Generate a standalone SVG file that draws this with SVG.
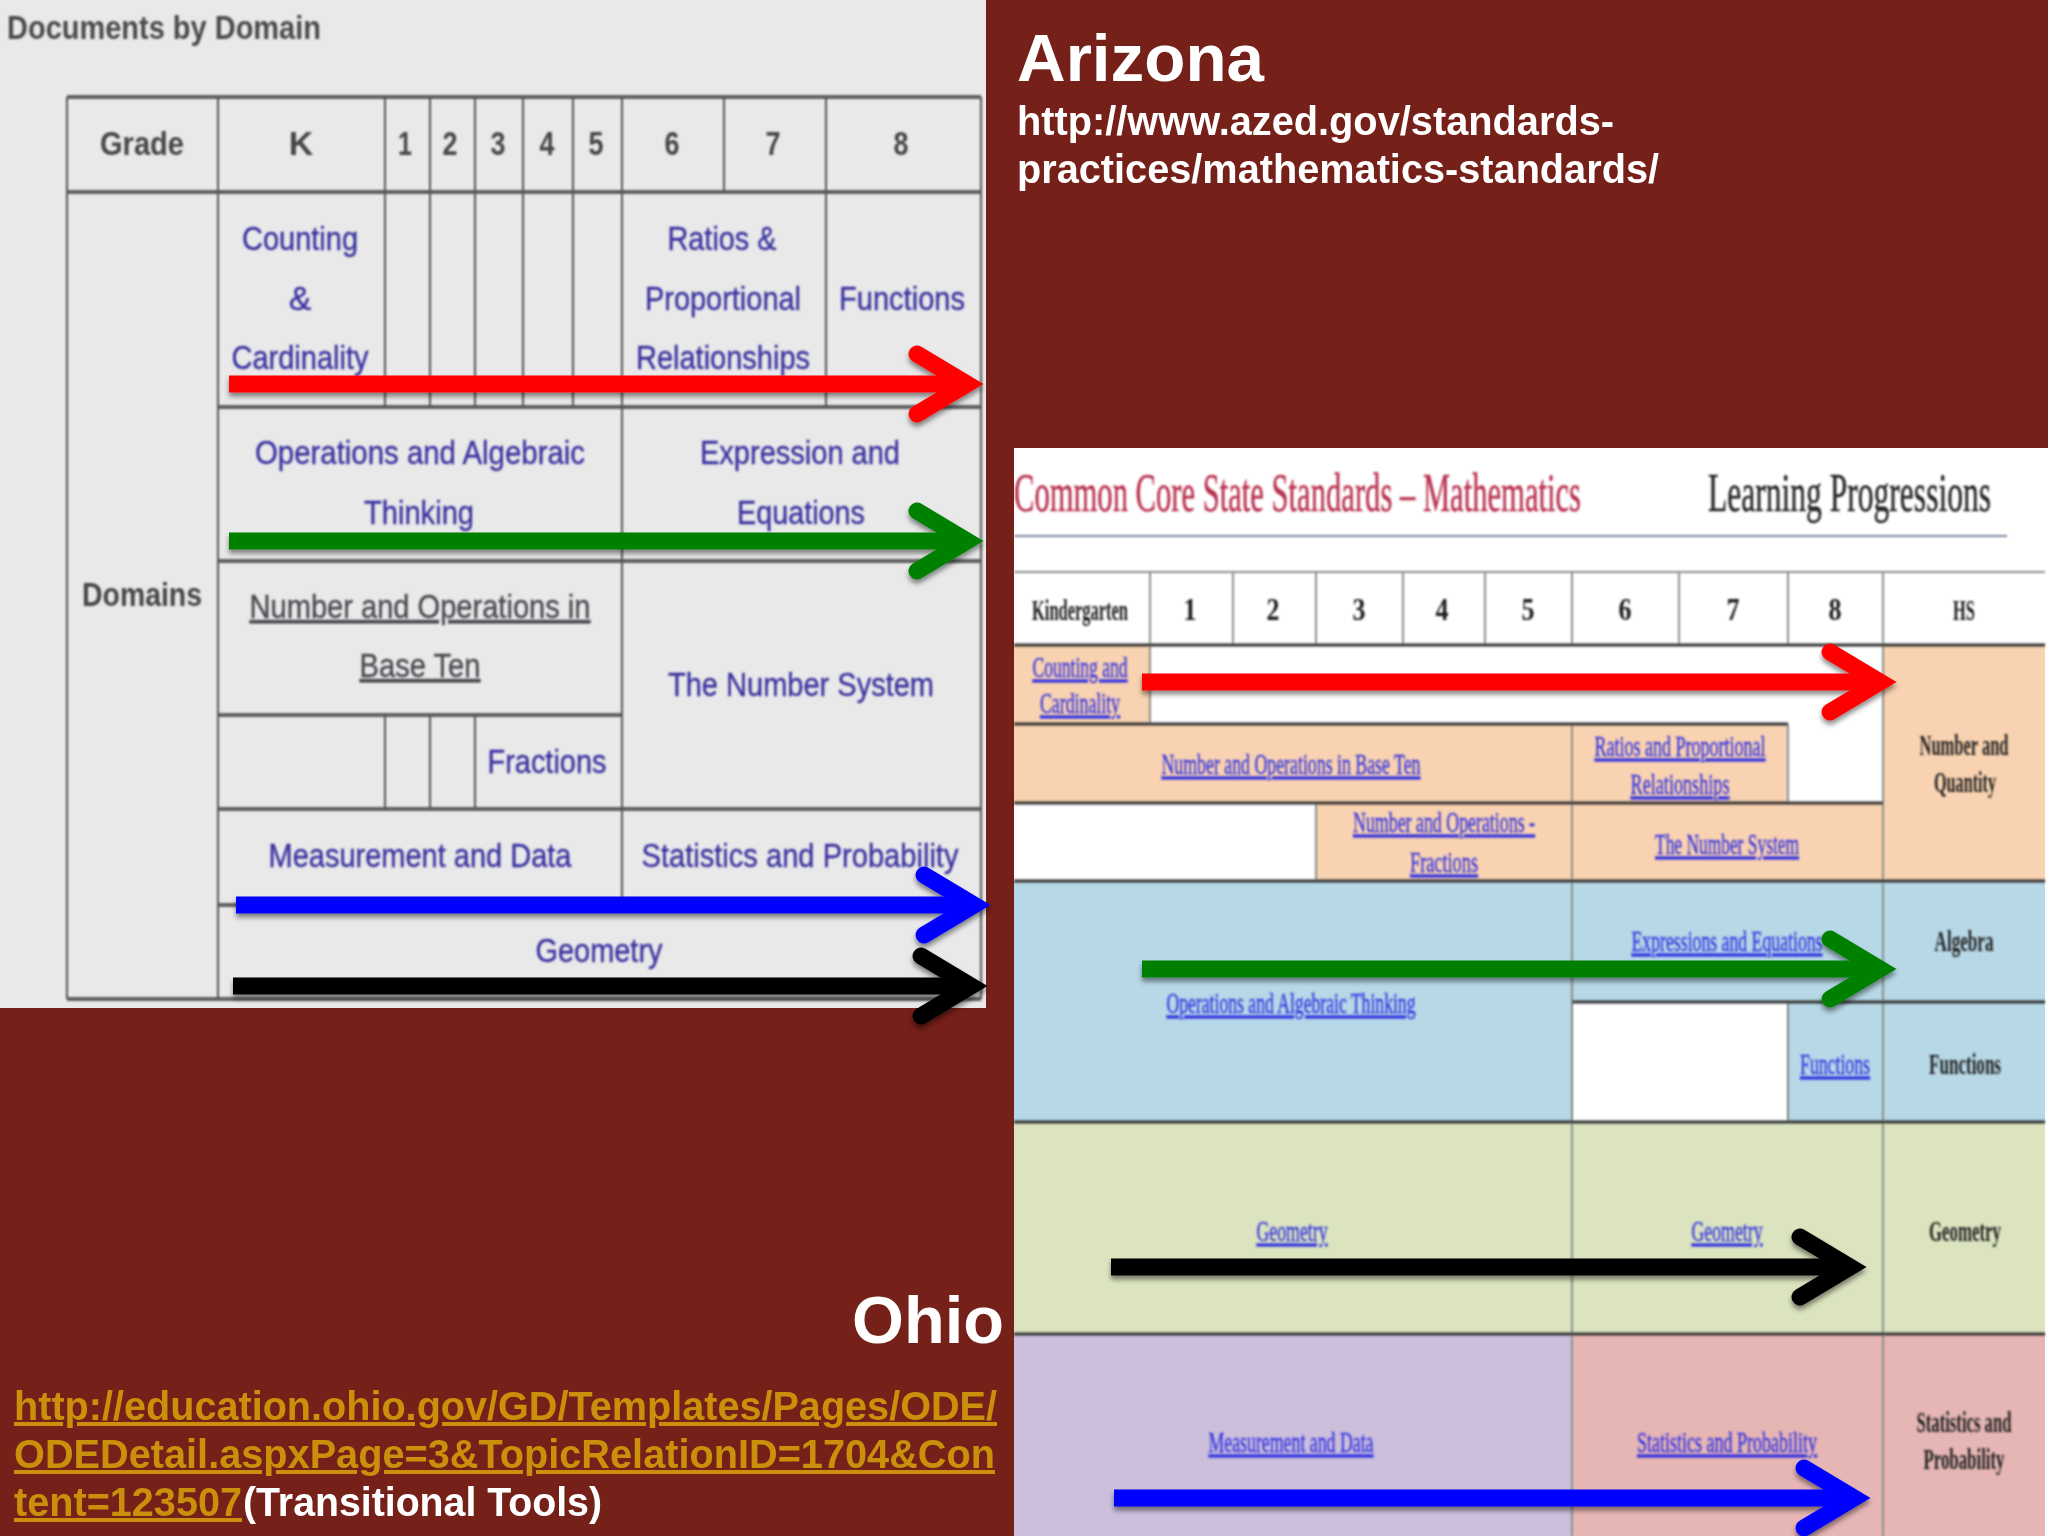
<svg xmlns="http://www.w3.org/2000/svg" width="2048" height="1536" viewBox="0 0 2048 1536">
<defs>
<filter id="soft" x="-2%" y="-20%" width="104%" height="140%"><feGaussianBlur stdDeviation="0.85"/></filter>
<filter id="shadow" x="-5%" y="-30%" width="110%" height="170%"><feDropShadow dx="0" dy="4" stdDeviation="2.5" flood-color="#000" flood-opacity="0.45"/></filter>
</defs>
<style>
text{font-family:"Liberation Sans",Arial,sans-serif}
.l{stroke:#555;stroke-width:2;fill:none}
.lh{stroke:#5e5e5e;stroke-width:4;fill:none}
.r{stroke:#8a8f8c;stroke-width:2;fill:none}
.rh{stroke:#333;stroke-width:3;fill:none}
.hd{font-size:34px;font-weight:bold;fill:#474747;text-anchor:middle}
.dm{font-size:34px;fill:#39309f;stroke:#39309f;stroke-width:.35;text-anchor:middle}
.ul{font-size:34px;fill:#4a4a50;stroke:#4a4a50;stroke-width:.35;text-anchor:middle;text-decoration:underline}
.ti{font-family:"Liberation Serif","Times New Roman",serif;font-size:30px}
.rhd{font-family:"Liberation Serif",serif;font-size:26px;font-weight:bold;fill:#1c1c1c;text-anchor:middle}
.nar{font-size:16.5px}
.rl{font-family:"Liberation Serif",serif;font-size:17.5px;fill:#3232e0;stroke:#3232e0;stroke-width:.2;text-anchor:middle;text-decoration:underline}
.rb{font-family:"Liberation Serif",serif;font-size:16.5px;font-weight:bold;fill:#222;text-anchor:middle}
.wt{fill:#fff;font-weight:bold}
.lk{fill:#cb900b;font-size:40px;font-weight:bold;text-decoration:underline}
.shaft{fill:none;stroke-width:17}
.head{fill:none;stroke-width:17;stroke-linecap:round;stroke-linejoin:miter;stroke-miterlimit:6}
</style>
<rect width="2048" height="1536" fill="#752018"/>

<g id="ohio-table">
<rect x="0" y="0" width="986" height="1008" fill="#e9e9e9"/>
<g filter="url(#soft)">
<path class="lh" d="M67 97H981M67 192H981M218 407H981M218 561H981M218 715H622M218 809H981M218 905H981M67 999H981"/>
<path class="l" d="M67 97V999M218 97V999M385 97V407M430 97V407M475 97V407M523 97V407M573 97V407M622 97V905M724 97V192M826 97V407M981 97V999M385 715V809M430 715V809M475 715V809"/>
<text x="7" y="39" font-size="33" font-weight="bold" fill="#4c4c4c" textLength="314" lengthAdjust="spacingAndGlyphs">Documents by Domain</text>
<text class="hd" x="142" y="155" textLength="84" lengthAdjust="spacingAndGlyphs">Grade</text>
<text class="hd" x="301" y="155">K</text>
<text class="hd" x="405" y="155" textLength="14" lengthAdjust="spacingAndGlyphs">1</text>
<text class="hd" x="450" y="155" textLength="15" lengthAdjust="spacingAndGlyphs">2</text>
<text class="hd" x="498" y="155" textLength="15" lengthAdjust="spacingAndGlyphs">3</text>
<text class="hd" x="547" y="155" textLength="15" lengthAdjust="spacingAndGlyphs">4</text>
<text class="hd" x="596" y="155" textLength="15" lengthAdjust="spacingAndGlyphs">5</text>
<text class="hd" x="672" y="155" textLength="15" lengthAdjust="spacingAndGlyphs">6</text>
<text class="hd" x="773" y="155" textLength="15" lengthAdjust="spacingAndGlyphs">7</text>
<text class="hd" x="901" y="155" textLength="15" lengthAdjust="spacingAndGlyphs">8</text>
<text class="hd" x="142" y="606" textLength="120" lengthAdjust="spacingAndGlyphs">Domains</text>
<text class="dm" x="300" y="250" textLength="116" lengthAdjust="spacingAndGlyphs">Counting</text>
<text class="dm" x="300" y="310">&amp;</text>
<text class="dm" x="300" y="369" textLength="137" lengthAdjust="spacingAndGlyphs">Cardinality</text>
<text class="dm" x="722" y="250" textLength="109" lengthAdjust="spacingAndGlyphs">Ratios &amp;</text>
<text class="dm" x="723" y="310" textLength="156" lengthAdjust="spacingAndGlyphs">Proportional</text>
<text class="dm" x="723" y="369" textLength="174" lengthAdjust="spacingAndGlyphs">Relationships</text>
<text class="dm" x="902" y="310" textLength="126" lengthAdjust="spacingAndGlyphs">Functions</text>
<text class="dm" x="420" y="464" textLength="330" lengthAdjust="spacingAndGlyphs">Operations and Algebraic</text>
<text class="dm" x="419" y="524" textLength="110" lengthAdjust="spacingAndGlyphs">Thinking</text>
<text class="dm" x="800" y="464" textLength="200" lengthAdjust="spacingAndGlyphs">Expression and</text>
<text class="dm" x="801" y="524" textLength="128" lengthAdjust="spacingAndGlyphs">Equations</text>
<text class="ul" x="420" y="618" textLength="341" lengthAdjust="spacingAndGlyphs">Number and Operations in</text>
<text class="ul" x="420" y="677" textLength="121" lengthAdjust="spacingAndGlyphs">Base Ten</text>
<text class="dm" x="801" y="696" textLength="266" lengthAdjust="spacingAndGlyphs">The Number System</text>
<text class="dm" x="547" y="773" textLength="119" lengthAdjust="spacingAndGlyphs">Fractions</text>
<text class="dm" x="420" y="867" textLength="303" lengthAdjust="spacingAndGlyphs">Measurement and Data</text>
<text class="dm" x="800" y="867" textLength="317" lengthAdjust="spacingAndGlyphs">Statistics and Probability</text>
<text class="dm" x="599" y="962" textLength="127" lengthAdjust="spacingAndGlyphs">Geometry</text>
</g>
</g>

<g id="arizona-table">
<rect x="1014" y="448" width="1034" height="1088" fill="#fff"/>
<rect x="1014" y="645" width="136" height="80" fill="#f9d3b1"/>
<rect x="1014" y="724" width="774" height="79" fill="#f9d3b1"/>
<rect x="1316" y="803" width="567" height="78" fill="#f9d3b1"/>
<rect x="1883" y="645" width="162" height="236" fill="#f9d3b1"/>
<rect x="1014" y="881" width="1031" height="241" fill="#b7d8e6"/>
<rect x="1573" y="1002" width="214" height="120" fill="#fff"/>
<rect x="1014" y="1122" width="1031" height="212" fill="#dbe4bf"/>
<rect x="1014" y="1334" width="558" height="202" fill="#cbbfdc"/>
<rect x="1572" y="1334" width="473" height="202" fill="#e6b6b5"/>
<g filter="url(#soft)">
<path d="M1014 536H2007" stroke="#7d86a6" stroke-width="2" fill="none"/>
<path class="r" d="M1014 572H2045M1150 572V645M1233 572V645M1316 572V645M1403 572V645M1485 572V645M1572 572V645M1679 572V645M1788 572V645M1883 572V1536M1572 724V1536M1788 724V803M1788 1002V1122M1150 645V724M1316 803V881"/>
<path class="rh" d="M1014 645H2045M1014 724H1788M1014 803H1883M1014 881H2045M1572 1002H2045M1014 1122H2045M1014 1334H2045"/>
<text class="ti" transform="matrix(1 0 0 1.85 1014 511)" fill="#b8324f" stroke="#b8324f" stroke-width=".25" textLength="567" lengthAdjust="spacingAndGlyphs">Common Core State Standards – Mathematics</text>
<text class="ti" transform="matrix(1 0 0 1.8 1708 511)" fill="#262626" stroke="#262626" stroke-width=".25" textLength="283" lengthAdjust="spacingAndGlyphs">Learning Progressions</text>
<text class="rhd nar" transform="matrix(1 0 0 1.8 1080 620)" textLength="96" lengthAdjust="spacingAndGlyphs">Kindergarten</text>
<text class="rhd" transform="matrix(1 0 0 1.2 1190 620)">1</text>
<text class="rhd" transform="matrix(1 0 0 1.2 1273 620)">2</text>
<text class="rhd" transform="matrix(1 0 0 1.2 1359 620)">3</text>
<text class="rhd" transform="matrix(1 0 0 1.2 1442 620)">4</text>
<text class="rhd" transform="matrix(1 0 0 1.2 1528 620)">5</text>
<text class="rhd" transform="matrix(1 0 0 1.2 1625 620)">6</text>
<text class="rhd" transform="matrix(1 0 0 1.2 1733 620)">7</text>
<text class="rhd" transform="matrix(1 0 0 1.2 1835 620)">8</text>
<text class="rhd nar" transform="matrix(1 0 0 1.8 1964 620)">HS</text>
<text class="rl" transform="matrix(1 0 0 1.7 1080 677)" textLength="95" lengthAdjust="spacingAndGlyphs">Counting and</text>
<text class="rl" transform="matrix(1 0 0 1.7 1080 713)" textLength="80" lengthAdjust="spacingAndGlyphs">Cardinality</text>
<text class="rl" transform="matrix(1 0 0 1.7 1291 774)" textLength="259" lengthAdjust="spacingAndGlyphs">Number and Operations in Base Ten</text>
<text class="rl" transform="matrix(1 0 0 1.7 1680 756)" textLength="171" lengthAdjust="spacingAndGlyphs">Ratios and Proportional</text>
<text class="rl" transform="matrix(1 0 0 1.7 1680 794)" textLength="99" lengthAdjust="spacingAndGlyphs">Relationships</text>
<text class="rl" transform="matrix(1 0 0 1.7 1444 832)" textLength="182" lengthAdjust="spacingAndGlyphs">Number and Operations -</text>
<text class="rl" transform="matrix(1 0 0 1.7 1444 872)" textLength="68" lengthAdjust="spacingAndGlyphs">Fractions</text>
<text class="rl" transform="matrix(1 0 0 1.7 1727 854)" textLength="144" lengthAdjust="spacingAndGlyphs">The Number System</text>
<text class="rb" transform="matrix(1 0 0 1.8 1964 755)" textLength="89" lengthAdjust="spacingAndGlyphs">Number and</text>
<text class="rb" transform="matrix(1 0 0 1.8 1965 792)" textLength="62" lengthAdjust="spacingAndGlyphs">Quantity</text>
<text class="rl" transform="matrix(1 0 0 1.7 1727 951)" textLength="191" lengthAdjust="spacingAndGlyphs">Expressions and Equations</text>
<text class="rb" transform="matrix(1 0 0 1.8 1964 951)" textLength="59" lengthAdjust="spacingAndGlyphs">Algebra</text>
<text class="rl" transform="matrix(1 0 0 1.7 1291 1013)" textLength="249" lengthAdjust="spacingAndGlyphs">Operations and Algebraic Thinking</text>
<text class="rl" transform="matrix(1 0 0 1.7 1835 1074)" textLength="70" lengthAdjust="spacingAndGlyphs">Functions</text>
<text class="rb" transform="matrix(1 0 0 1.8 1965 1074)" textLength="72" lengthAdjust="spacingAndGlyphs">Functions</text>
<text class="rl" transform="matrix(1 0 0 1.7 1292 1241)" textLength="71" lengthAdjust="spacingAndGlyphs">Geometry</text>
<text class="rl" transform="matrix(1 0 0 1.7 1727 1241)" textLength="71" lengthAdjust="spacingAndGlyphs">Geometry</text>
<text class="rb" transform="matrix(1 0 0 1.8 1965 1241)" textLength="72" lengthAdjust="spacingAndGlyphs">Geometry</text>
<text class="rl" transform="matrix(1 0 0 1.7 1291 1452)" textLength="165" lengthAdjust="spacingAndGlyphs">Measurement and Data</text>
<text class="rl" transform="matrix(1 0 0 1.7 1727 1452)" textLength="180" lengthAdjust="spacingAndGlyphs">Statistics and Probability</text>
<text class="rb" transform="matrix(1 0 0 1.8 1964 1432)" textLength="95" lengthAdjust="spacingAndGlyphs">Statistics and</text>
<text class="rb" transform="matrix(1 0 0 1.8 1964 1469)" textLength="81" lengthAdjust="spacingAndGlyphs">Probability</text>
</g>
</g>

<g id="captions">
<text class="wt" x="1017" y="81" font-size="67" textLength="247" lengthAdjust="spacingAndGlyphs">Arizona</text>
<text class="wt" x="1017" y="135" font-size="40" textLength="597" lengthAdjust="spacingAndGlyphs">http://www.azed.gov/standards-</text>
<text class="wt" x="1017" y="183" font-size="40" textLength="642" lengthAdjust="spacingAndGlyphs">practices/mathematics-standards/</text>
<text class="wt" x="852" y="1343" font-size="67" textLength="152" lengthAdjust="spacingAndGlyphs">Ohio</text>
<text class="lk" x="14" y="1420" textLength="983" lengthAdjust="spacingAndGlyphs">http://education.ohio.gov/GD/Templates/Pages/ODE/</text>
<text class="lk" x="14" y="1468" textLength="981" lengthAdjust="spacingAndGlyphs">ODEDetail.aspxPage=3&amp;TopicRelationID=1704&amp;Con</text>
<text class="lk" x="14" y="1516" textLength="228" lengthAdjust="spacingAndGlyphs">tent=123507</text>
<text class="wt" x="243" y="1516" font-size="40" textLength="359" lengthAdjust="spacingAndGlyphs">(Transitional Tools)</text>
</g>

<g id="connectors" filter="url(#shadow)">
<g id="arrow-red-left" stroke="#ff0000"><path class="shaft" d="M229 384H967"/><path class="head" d="M917 354L967 384L917 414"/></g>
<g id="arrow-green-left" stroke="#008000"><path class="shaft" d="M229 541H967"/><path class="head" d="M917 511L967 541L917 571"/></g>
<g id="arrow-blue-left" stroke="#0000ff"><path class="shaft" d="M236 905H974"/><path class="head" d="M924 875L974 905L924 935"/></g>
<g id="arrow-black-left" stroke="#000"><path class="shaft" d="M233 986H971"/><path class="head" d="M921 956L971 986L921 1016"/></g>
<g id="arrow-red-right" stroke="#ff0000"><path class="shaft" d="M1142 682H1880"/><path class="head" d="M1830 652L1880 682L1830 712"/></g>
<g id="arrow-green-right" stroke="#008000"><path class="shaft" d="M1142 969H1880"/><path class="head" d="M1830 939L1880 969L1830 999"/></g>
<g id="arrow-black-right" stroke="#000"><path class="shaft" d="M1111 1267H1850"/><path class="head" d="M1800 1237L1850 1267L1800 1297"/></g>
<g id="arrow-blue-right" stroke="#0000ff"><path class="shaft" d="M1114 1498H1854"/><path class="head" d="M1804 1468L1854 1498L1804 1528"/></g>
</g>
</svg>
